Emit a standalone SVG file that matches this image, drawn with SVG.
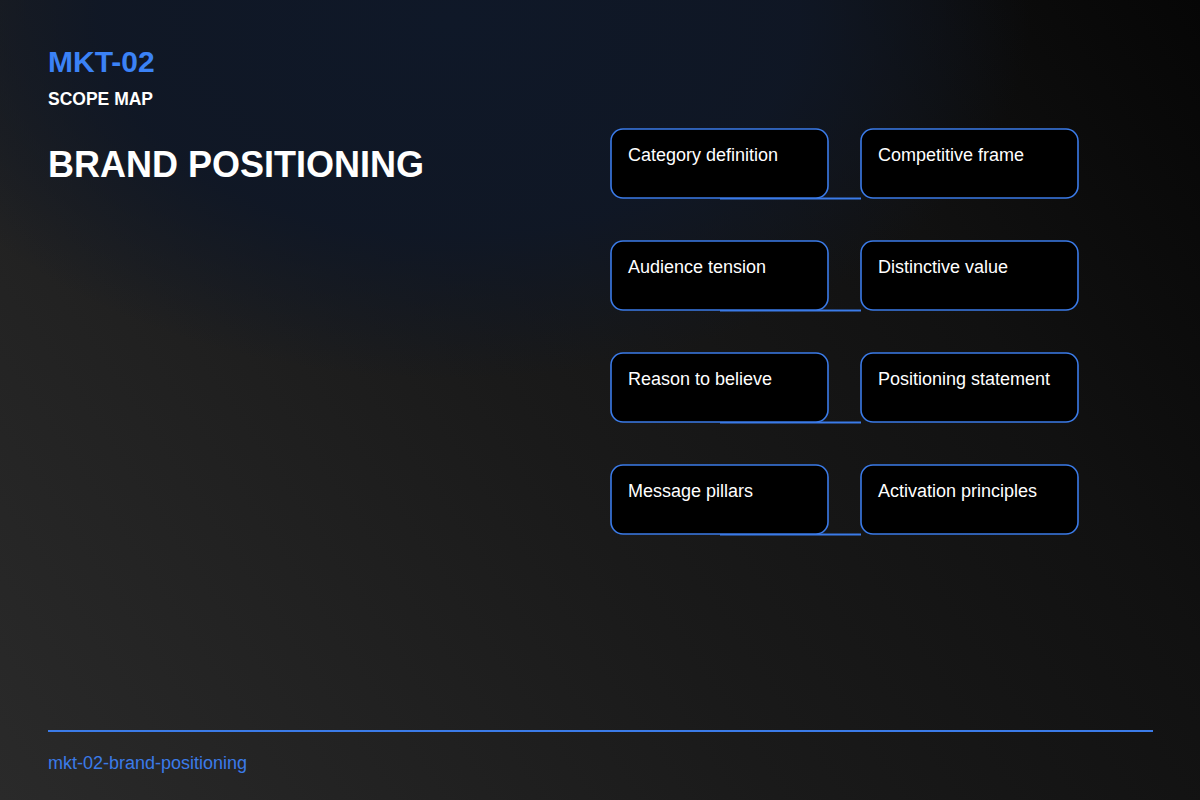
<svg xmlns="http://www.w3.org/2000/svg" width="1200" height="800" viewBox="0 0 1200 800">
<defs>
<linearGradient id="bg" x1="0" y1="800" x2="1200" y2="0" gradientUnits="userSpaceOnUse">
<stop offset="0" stop-color="#2a2a2a"/>
<stop offset="0.45" stop-color="#1a1a1a"/>
<stop offset="0.75" stop-color="#111111"/>
<stop offset="1" stop-color="#060606"/>
</linearGradient>
<radialGradient id="navy" cx="450" cy="20" r="580" gradientUnits="userSpaceOnUse" gradientTransform="translate(450 20) scale(1 0.62) translate(-450 -20)">
<stop offset="0" stop-color="#0f1828" stop-opacity="1"/>
<stop offset="0.6" stop-color="#0f1726" stop-opacity="0.92"/>
<stop offset="1" stop-color="#0f1726" stop-opacity="0"/>
</radialGradient>
<style>
.node rect{fill:#000;stroke:#3b7be8;stroke-width:1.6}
.node text{font-family:"Liberation Sans",Arial,sans-serif;font-size:18px;fill:#fff}
.conn{stroke:#3b7be8;stroke-width:2;fill:none}
.t{font-family:"Liberation Sans",Arial,sans-serif;font-weight:bold}
</style>
</defs>
<rect width="1200" height="800" fill="url(#bg)"/>
<rect width="1200" height="800" fill="url(#navy)"/>
<text class="t" x="48" y="72" font-size="30" fill="#3b82f6">MKT-02</text>
<text class="t" x="48" y="105" font-size="17.5" fill="#fff">SCOPE MAP</text>
<text class="t" x="48" y="177" font-size="36" fill="#fff">BRAND POSITIONING</text>
<g id="connectors">
<path class="conn" d="M720 198.5 H861"/>
<path class="conn" d="M720 310.5 H861"/>
<path class="conn" d="M720 422.5 H861"/>
<path class="conn" d="M720 534.5 H861"/>
</g>
<g id="n1" class="node"><rect x="611" y="129" width="217" height="69" rx="12"/><text x="628" y="161">Category definition</text></g>
<g id="n2" class="node"><rect x="861" y="129" width="217" height="69" rx="12"/><text x="878" y="161">Competitive frame</text></g>
<g id="n3" class="node"><rect x="611" y="241" width="217" height="69" rx="12"/><text x="628" y="273">Audience tension</text></g>
<g id="n4" class="node"><rect x="861" y="241" width="217" height="69" rx="12"/><text x="878" y="273">Distinctive value</text></g>
<g id="n5" class="node"><rect x="611" y="353" width="217" height="69" rx="12"/><text x="628" y="385">Reason to believe</text></g>
<g id="n6" class="node"><rect x="861" y="353" width="217" height="69" rx="12"/><text x="878" y="385">Positioning statement</text></g>
<g id="n7" class="node"><rect x="611" y="465" width="217" height="69" rx="12"/><text x="628" y="497">Message pillars</text></g>
<g id="n8" class="node"><rect x="861" y="465" width="217" height="69" rx="12"/><text x="878" y="497">Activation principles</text></g>
<line x1="48" y1="731" x2="1153" y2="731" stroke="#3b7be8" stroke-width="2"/>
<text x="48" y="769" font-family="Liberation Sans,Arial,sans-serif" font-size="18" fill="#3b7be8">mkt-02-brand-positioning</text>
</svg>
